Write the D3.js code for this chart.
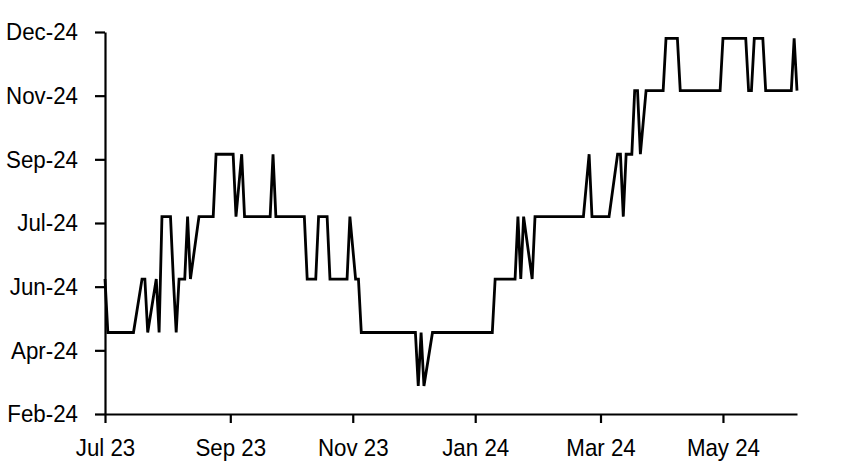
<!DOCTYPE html>
<html>
<head>
<meta charset="utf-8">
<script src="https://cdn.jsdelivr.net/npm/d3@7"></script>
<style>
  html, body { margin: 0; padding: 0; background: #fff; }
  svg text { font-family: "Liberation Sans", Arial, sans-serif; fill: #000; }
</style>
</head>
<body>
<svg id="chart" width="852" height="469"></svg>
<script>
// Observation dates (business days where the line changes direction)
const obsDates = [
  "2023-07-03","2023-07-04","2023-07-17","2023-07-20","2023-07-21","2023-07-24","2023-07-27","2023-07-28",
  "2023-07-31","2023-08-03","2023-08-04","2023-08-07","2023-08-08","2023-08-10","2023-08-11","2023-08-14",
  "2023-08-17","2023-08-24","2023-08-25","2023-09-04","2023-09-05","2023-09-07","2023-09-08","2023-09-21",
  "2023-09-22","2023-09-25","2023-10-09","2023-10-10","2023-10-13","2023-10-16","2023-10-19","2023-10-20",
  "2023-10-30","2023-10-31","2023-11-02","2023-11-03","2023-11-06","2023-12-01","2023-12-04","2023-12-05",
  "2023-12-06","2023-12-11","2024-01-09","2024-01-10","2024-01-19","2024-01-22","2024-01-23","2024-01-24",
  "2024-01-29","2024-01-30","2024-02-22","2024-02-26","2024-02-27","2024-03-06","2024-03-11","2024-03-12",
  "2024-03-13","2024-03-14","2024-03-18","2024-03-19","2024-03-20","2024-03-21","2024-03-25","2024-04-02",
  "2024-04-03","2024-04-09","2024-04-10","2024-04-30","2024-05-01","2024-05-13","2024-05-14","2024-05-15",
  "2024-05-16","2024-05-21","2024-05-22","2024-06-04","2024-06-05","2024-06-06"
];
// Expected meeting of first cut (value on each observation date)
const firstCut = [
  "2024-06-12","2024-05-01","2024-05-01","2024-06-12","2024-06-12","2024-05-01","2024-06-12","2024-05-01",
  "2024-07-31","2024-07-31","2024-06-12","2024-05-01","2024-06-12","2024-06-12","2024-07-31","2024-06-12",
  "2024-07-31","2024-07-31","2024-09-18","2024-09-18","2024-07-31","2024-09-18","2024-07-31","2024-07-31",
  "2024-09-18","2024-07-31","2024-07-31","2024-06-12","2024-06-12","2024-07-31","2024-07-31","2024-06-12",
  "2024-06-12","2024-07-31","2024-06-12","2024-06-12","2024-05-01","2024-05-01","2024-03-20","2024-05-01",
  "2024-03-20","2024-05-01","2024-05-01","2024-06-12","2024-06-12","2024-07-31","2024-06-12","2024-07-31",
  "2024-06-12","2024-07-31","2024-07-31","2024-09-18","2024-07-31","2024-07-31","2024-09-18","2024-09-18",
  "2024-07-31","2024-09-18","2024-09-18","2024-11-07","2024-11-07","2024-09-18","2024-11-07","2024-11-07",
  "2024-12-18","2024-12-18","2024-11-07","2024-11-07","2024-12-18","2024-12-18","2024-11-07","2024-11-07",
  "2024-12-18","2024-12-18","2024-11-07","2024-11-07","2024-12-18","2024-11-07"
];
// Axis definitions
const xRange = ["2023-07-03", "2024-06-06"];
const xTickDates = ["2023-07-03","2023-09-01","2023-11-01","2024-01-01","2024-03-01","2024-05-01"];
const xTickLabels = ["Jul 23","Sep 23","Nov 23","Jan 24","Mar 24","May 24"];
const yTickDates = ["2024-02-27","2024-04-17","2024-06-06","2024-07-26","2024-09-14","2024-11-03","2024-12-23"];
const yTickLabels = ["Feb-24","Apr-24","Jun-24","Jul-24","Sep-24","Nov-24","Dec-24"];

const parse = d3.timeParse("%Y-%m-%d");
const fmt = d3.timeFormat("%Y-%m-%d");

// business-day categories
const bdays = d3.timeDays(parse(xRange[0]), d3.timeDay.offset(parse(xRange[1]), 1))
  .filter(d => d.getDay() !== 0 && d.getDay() !== 6)
  .map(fmt);

const svg = d3.select("#chart");
const mLeft = 105, mRight = 797, mTop = 32, mBottom = 414;
const FS = 24, SX = 0.93;

const x = d3.scalePoint().domain(bdays).range([mLeft, mRight]);
const y = d3.scaleTime()
  .domain([parse(yTickDates[0]), parse(yTickDates[yTickDates.length - 1])])
  .range([mBottom, mTop]);

const data = obsDates.map((d, i) => ({ x: d, y: parse(firstCut[i]) }));

// line
svg.append("path")
  .datum(data)
  .attr("fill", "none")
  .attr("stroke", "#000")
  .attr("stroke-width", 2.8)
  .attr("stroke-linejoin", "miter")
  .attr("stroke-miterlimit", 3)
  .attr("d", d3.line().x(d => x(d.x)).y(d => y(d.y)));

// y axis
const yAxis = d3.axisLeft(y)
  .tickValues(yTickDates.map(parse))
  .tickFormat((d, i) => yTickLabels[i])
  .tickSize(10)
  .tickPadding(17)
  .tickSizeOuter(0);
const gy = svg.append("g").attr("transform", `translate(${mLeft},0)`).call(yAxis);
gy.select(".domain").attr("stroke", "#000").attr("stroke-width", 2.2);
gy.selectAll(".tick line").attr("stroke", "#000").attr("stroke-width", 2.2);
gy.selectAll(".tick text")
  .attr("font-size", FS)
  .attr("font-family", "Liberation Sans, Arial, sans-serif")
  .attr("x", -27 / SX)
  .attr("transform", `scale(${SX},1)`);

// x axis
const xAxis = d3.axisBottom(x)
  .tickValues(xTickDates)
  .tickFormat((d, i) => xTickLabels[i])
  .tickSize(9)
  .tickPadding(16)
  .tickSizeOuter(0);
const gx = svg.append("g").attr("transform", `translate(0,${mBottom})`).call(xAxis);
gx.select(".domain").attr("stroke", "#000").attr("stroke-width", 2.2);
gx.selectAll(".tick line").attr("stroke", "#000").attr("stroke-width", 2.2);
gx.selectAll(".tick text")
  .attr("font-size", FS)
  .attr("font-family", "Liberation Sans, Arial, sans-serif")
  .attr("transform", `scale(${SX},1)`);
</script>
</body>
</html>
